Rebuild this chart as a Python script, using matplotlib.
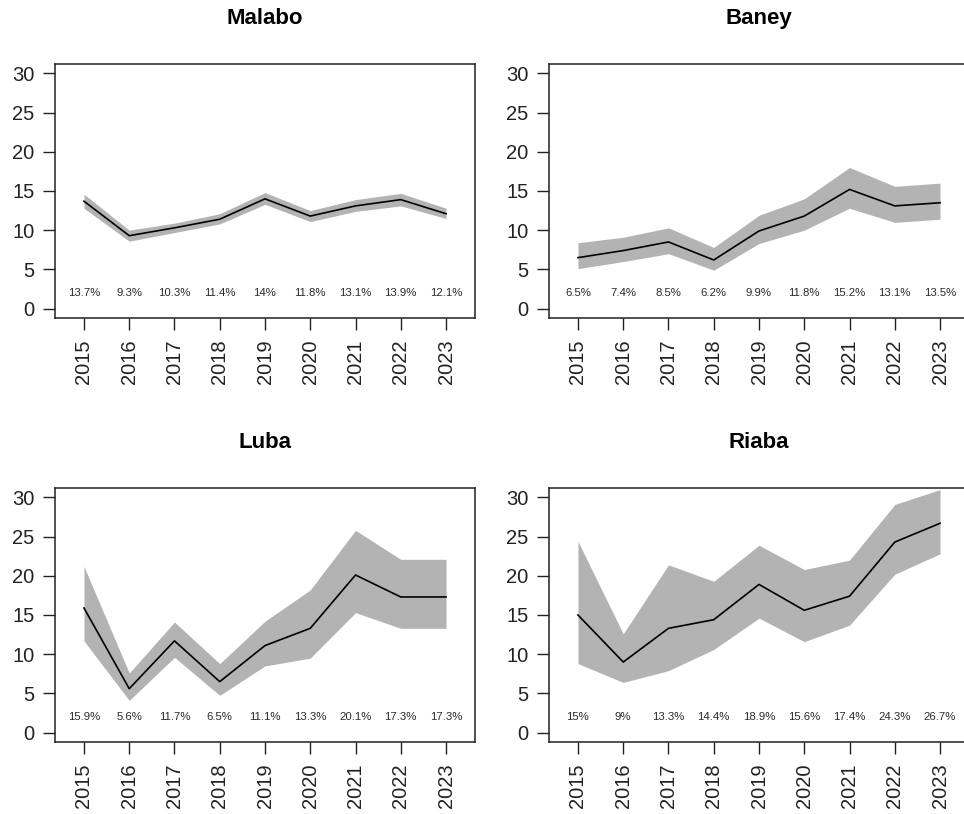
import matplotlib
matplotlib.use("Agg")
import matplotlib.pyplot as plt

plt.rcParams['font.family'] = ['Liberation Sans', 'DejaVu Sans']

years = [2015, 2016, 2017, 2018, 2019, 2020, 2021, 2022, 2023]
regions = ["Malabo", "Baney", "Luba", "Riaba"]

malabo_est = [13.7, 9.3, 10.3, 11.4, 14.0, 11.8, 13.1, 13.9, 12.1]
malabo_lo = [12.8, 8.6, 9.7, 10.8, 13.3, 11.1, 12.4, 13.1, 11.5]
malabo_hi = [14.6, 10.0, 10.9, 12.1, 14.8, 12.5, 13.9, 14.7, 12.8]

baney_est = [6.5, 7.4, 8.5, 6.2, 9.9, 11.8, 15.2, 13.1, 13.5]
baney_lo = [5.1, 6.0, 7.0, 4.9, 8.3, 10.0, 12.8, 11.0, 11.4]
baney_hi = [8.4, 9.1, 10.3, 7.8, 11.9, 14.0, 18.0, 15.6, 16.0]

luba_est = [15.9, 5.6, 11.7, 6.5, 11.1, 13.3, 20.1, 17.3, 17.3]
luba_lo = [11.7, 4.1, 9.6, 4.75, 8.5, 9.5, 15.3, 13.3, 13.3]
luba_hi = [21.2, 7.6, 14.1, 8.8, 14.2, 18.2, 25.8, 22.1, 22.1]

riaba_est = [15.0, 9.0, 13.3, 14.4, 18.9, 15.6, 17.4, 24.3, 26.7]
riaba_lo = [8.8, 6.4, 7.9, 10.6, 14.6, 11.6, 13.7, 20.2, 22.8]
riaba_hi = [24.4, 12.6, 21.4, 19.3, 23.9, 20.8, 22.0, 29.1, 31.0]

labels = {
    "Malabo": ["13.7%", "9.3%", "10.3%", "11.4%", "14%", "11.8%", "13.1%", "13.9%", "12.1%"],
    "Baney": ["6.5%", "7.4%", "8.5%", "6.2%", "9.9%", "11.8%", "15.2%", "13.1%", "13.5%"],
    "Luba": ["15.9%", "5.6%", "11.7%", "6.5%", "11.1%", "13.3%", "20.1%", "17.3%", "17.3%"],
    "Riaba": ["15%", "9%", "13.3%", "14.4%", "18.9%", "15.6%", "17.4%", "24.3%", "26.7%"],
}
series = {
    "Malabo": (malabo_est, malabo_lo, malabo_hi),
    "Baney": (baney_est, baney_lo, baney_hi),
    "Luba": (luba_est, luba_lo, luba_hi),
    "Riaba": (riaba_est, riaba_lo, riaba_hi),
}
yticks = [0, 5, 10, 15, 20, 25, 30]

W, H = 964, 814
fig = plt.figure(figsize=(W / 100, H / 100), dpi=100)

pw, ph = 420, 254
boxes = {
    "Malabo": (55, 64),
    "Baney": (549, 64),
    "Luba": (55, 488),
    "Riaba": (549, 488),
}

for name in regions:
    x0, y0 = boxes[name]
    ax = fig.add_axes([x0 / W, 1 - (y0 + ph) / H, pw / W, ph / H])
    est, lo, hi = series[name]
    ax.fill_between(years, lo, hi, color="#b3b3b3", linewidth=0, zorder=1)
    ax.plot(years, est, color="black", linewidth=1.2, zorder=2)
    for yr, lab in zip(years, labels[name]):
        ax.text(yr, 2, lab, ha="center", va="center", fontsize=8.2, color="#2a2a2a")
    ax.set_xlim(2014.36, 2023.64)
    ax.set_ylim(-1.2, 31.2)
    ax.set_xticks(years)
    ax.set_xticklabels([str(y) for y in years], rotation=90)
    ax.set_yticks(yticks)
    ax.tick_params(axis="both", direction="out", length=8.6, width=1.0,
                   labelsize=14.5, colors="#222222")
    ax.tick_params(axis="y", pad=6)
    ax.tick_params(axis="x", pad=7)
    for s in ax.spines.values():
        s.set_linewidth(1.1)
        s.set_color("#222222")
    ax.set_title(name, fontsize=16, fontweight="bold", pad=29)

fig.savefig("out.png", dpi=100)
